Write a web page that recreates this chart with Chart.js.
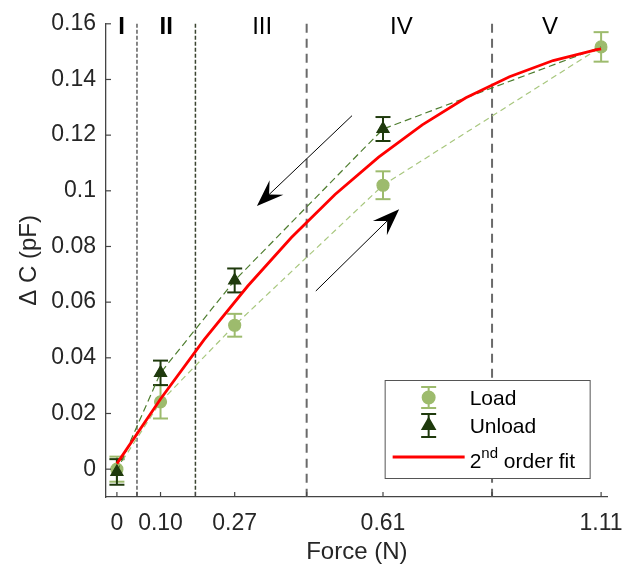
<!DOCTYPE html>
<html>
<head>
<meta charset="utf-8">
<script src="https://cdn.jsdelivr.net/npm/chart.js@4.4.1/dist/chart.umd.min.js"></script>
<style>
html, body { margin: 0; padding: 0; background: #fff; }
</style>
</head>
<body>
<canvas id="forceChart" width="636" height="576"></canvas>
<script>
// force levels (N) and capacitance change (pF)
const forceLevels = [0, 0.10, 0.27, 0.61, 1.11];
const loadValues = [0.0, 0.0242, 0.0517, 0.1020, 0.1517];
const loadErrors = [0.0045, 0.0060, 0.0041, 0.0050, 0.0053];
const unloadValues = [-0.001, 0.0346, 0.0678, 0.1222, 0.1517];
const unloadErrors = [0.0046, 0.0044, 0.0043, 0.0043, 0.0053];

// 2nd order fit
const fitForce = [0, 0.1, 0.2, 0.3, 0.4, 0.5, 0.6, 0.7, 0.8, 0.9, 1.0, 1.1, 1.11];
const fitValues = [0.002, 0.0252, 0.0465, 0.0658, 0.0832, 0.0987, 0.1121, 0.1237, 0.1334, 0.1410, 0.1468, 0.1507, 0.1510];

const regionBounds = [0.046, 0.18, 0.435, 0.86];
const regionNames = ["I", "II", "III", "IV", "V"];
const regionLabelX = [0.011, 0.113, 0.333, 0.652, 0.993];

const xTicks = [0, 0.046, 0.10, 0.18, 0.27, 0.435, 0.61, 0.86, 1.11];
const xTickLabels = ["0", "", "0.10", "", "0.27", "", "0.61", "", "1.11"];
const yTicks = [0, 0.02, 0.04, 0.06, 0.08, 0.10, 0.12, 0.14, 0.16];
const yTickLabels = ["0", "0.02", "0.04", "0.06", "0.08", "0.1", "0.12", "0.14", "0.16"];

// arrows [x0, y0, x1, y1] in data units, tip at (x1, y1)
const unloadArrow = [0.539, 0.127, 0.321, 0.0945];
const loadArrow = [0.456, 0.064, 0.647, 0.0934];

const FONT = "'Liberation Sans', Arial, Helvetica, sans-serif";
const LOAD_COLOR = "#9dbb6d";
const UNLOAD_COLOR = "#1f3a0d";
const LAST = forceLevels.length - 1;

function toPoints(xs, ys) {
    return xs.map((x, i) => ({ x: x, y: ys[i] }));
}

function line(ctx, x0, y0, x1, y1) {
    ctx.beginPath();
    ctx.moveTo(x0, y0);
    ctx.lineTo(x1, y1);
    ctx.stroke();
}

function drawErrors(ctx, x, y, values, errors, color, skipLast) {
    ctx.strokeStyle = color;
    ctx.lineWidth = 2;
    values.forEach((v, i) => {
        if (skipLast && i === LAST) return;
        const px = x.getPixelForValue(forceLevels[i]);
        const top = y.getPixelForValue(v + errors[i]);
        const bot = y.getPixelForValue(v - errors[i]);
        line(ctx, px, top, px, bot);
        line(ctx, px - 7.5, top, px + 7.5, top);
        line(ctx, px - 7.5, bot, px + 7.5, bot);
    });
}

function drawArrow(ctx, x, y, arr) {
    const x0 = x.getPixelForValue(arr[0]), y0 = y.getPixelForValue(arr[1]);
    const x1 = x.getPixelForValue(arr[2]), y1 = y.getPixelForValue(arr[3]);
    const len = Math.hypot(x1 - x0, y1 - y0);
    const ux = (x1 - x0) / len, uy = (y1 - y0) / len;
    const L = 27, W = 10;
    ctx.strokeStyle = "#000";
    ctx.lineWidth = 1;
    line(ctx, x0, y0, x1 - ux * L * 0.5, y1 - uy * L * 0.5);
    ctx.fillStyle = "#000";
    ctx.beginPath();
    ctx.moveTo(x1, y1);
    ctx.lineTo(x1 - ux * L - uy * W, y1 - uy * L + ux * W);
    ctx.lineTo(x1 - ux * L * 0.62, y1 - uy * L * 0.62);
    ctx.lineTo(x1 - ux * L + uy * W, y1 - uy * L - ux * W);
    ctx.closePath();
    ctx.fill();
}

function legendErrorIcon(ctx, cx, top, bot, color, style, r) {
    ctx.strokeStyle = color;
    ctx.lineWidth = 2;
    line(ctx, cx, top, cx, bot);
    line(ctx, cx - 7.5, top, cx + 7.5, top);
    line(ctx, cx - 7.5, bot, cx + 7.5, bot);
    ctx.fillStyle = color;
    Chart.helpers.drawPoint(ctx, { pointStyle: style, radius: r, borderWidth: 1, rotation: 0 }, cx, (top + bot) / 2);
}

const extras = {
    id: "extras",
    beforeDatasetsDraw(chart) {
        const { ctx, chartArea: a, scales: { x, y } } = chart;
        ctx.save();
        regionBounds.forEach((b, i) => {
            const px = x.getPixelForValue(b);
            ctx.strokeStyle = i === 0 ? "#606060" : i === 1 ? "#3a4430" : "#6a6a6a";
            ctx.lineWidth = i < 2 ? 1.5 : 2;
            ctx.setLineDash(i < 2 ? [4, 2] : [9, 6]);
            line(ctx, px, a.top, px, a.bottom);
        });
        ctx.setLineDash([]);
        drawErrors(ctx, x, y, loadValues, loadErrors, LOAD_COLOR, false);
        drawErrors(ctx, x, y, unloadValues, unloadErrors, UNLOAD_COLOR, true);
        ctx.restore();
    },
    afterDatasetsDraw(chart) {
        const { ctx, chartArea: a, scales: { x, y } } = chart;
        ctx.save();
        drawArrow(ctx, x, y, unloadArrow);
        drawArrow(ctx, x, y, loadArrow);

        // region numerals
        ctx.fillStyle = "#000";
        ctx.textAlign = "center";
        ctx.textBaseline = "middle";
        regionNames.forEach((n, i) => {
            ctx.font = (i < 2 ? "bold " : "") + "24px " + FONT;
            ctx.fillText(n, x.getPixelForValue(regionLabelX[i]), a.top + 4);
        });

        // inward ticks
        ctx.strokeStyle = "#444";
        ctx.lineWidth = 1.2;
        xTicks.forEach(v => {
            const px = x.getPixelForValue(v);
            line(ctx, px, a.bottom, px, a.bottom - 5);
        });
        yTicks.forEach(v => {
            const py = y.getPixelForValue(v);
            line(ctx, a.left, py, a.left + 5, py);
        });

        // legend
        const lx = a.right - 223, ly = a.bottom - 117;
        ctx.fillStyle = "#fff";
        ctx.fillRect(lx, ly, 205, 98);
        ctx.strokeStyle = "#555";
        ctx.lineWidth = 1;
        ctx.strokeRect(lx + 0.5, ly + 0.5, 205, 98);

        legendErrorIcon(ctx, lx + 44, ly + 7, ly + 28, LOAD_COLOR, "circle", 6);
        legendErrorIcon(ctx, lx + 44, ly + 34, ly + 57, UNLOAD_COLOR, "triangle", 7);
        ctx.strokeStyle = "#ff0000";
        ctx.lineWidth = 3;
        line(ctx, lx + 8, ly + 77, lx + 80, ly + 77);

        ctx.fillStyle = "#000";
        ctx.textAlign = "left";
        ctx.textBaseline = "middle";
        ctx.font = "21px " + FONT;
        ctx.fillText("Load", lx + 85, ly + 19);
        ctx.fillText("Unload", lx + 85, ly + 47);
        ctx.textBaseline = "alphabetic";
        let tx = lx + 85;
        ctx.fillText("2", tx, ly + 88);
        tx += ctx.measureText("2").width;
        ctx.font = "15px " + FONT;
        ctx.fillText("nd", tx, ly + 78);
        tx += ctx.measureText("nd").width;
        ctx.font = "21px " + FONT;
        ctx.fillText(" order fit", tx, ly + 88);
        ctx.restore();
    }
};

const ctx = document.getElementById("forceChart").getContext("2d");
const forceChart = new Chart(ctx, {
    type: "line",
    data: {
        datasets: [
            {
                label: "2nd order fit",
                data: toPoints(fitForce, fitValues),
                borderColor: "#ff0000",
                borderWidth: 2.8,
                pointRadius: 0,
                tension: 0,
                order: 1
            },
            {
                label: "Unload",
                data: toPoints(forceLevels, unloadValues),
                borderColor: "#4e7d2f",
                borderWidth: 1.2,
                borderDash: [7, 4],
                pointStyle: "triangle",
                pointRadius: c => (c.dataIndex === LAST ? 0 : 7),
                pointBackgroundColor: UNLOAD_COLOR,
                pointBorderColor: UNLOAD_COLOR,
                tension: 0,
                order: 2
            },
            {
                label: "Load",
                data: toPoints(forceLevels, loadValues),
                borderColor: "#a8c77e",
                borderWidth: 1.2,
                borderDash: [6, 4],
                pointStyle: "circle",
                pointRadius: 6,
                pointBackgroundColor: LOAD_COLOR,
                pointBorderColor: LOAD_COLOR,
                tension: 0,
                order: 3
            }
        ]
    },
    options: {
        responsive: false,
        animation: false,
        layout: { padding: { top: 15, right: 28, left: 0, bottom: 0 } },
        plugins: {
            legend: { display: false },
            tooltip: { enabled: false }
        },
        scales: {
            x: {
                type: "linear",
                min: -0.025,
                max: 1.125,
                afterBuildTicks: s => { s.ticks = xTicks.map(v => ({ value: v })); },
                afterFit: s => { s.height = 79; },
                grid: { display: false, drawTicks: false },
                border: { display: true, color: "#444", width: 1.3 },
                ticks: {
                    autoSkip: false,
                    maxRotation: 0,
                    padding: 13,
                    color: "#262626",
                    font: { family: FONT, size: 23 },
                    callback: (v, i) => xTickLabels[i]
                },
                title: {
                    display: true,
                    text: "Force (N)",
                    color: "#262626",
                    font: { family: FONT, size: 24 },
                    padding: { top: 0, bottom: 9 }
                }
            },
            y: {
                min: -0.01,
                max: 0.16,
                afterBuildTicks: s => { s.ticks = yTicks.map(v => ({ value: v })); },
                afterFit: s => { s.width = 106; },
                grid: { display: false, drawTicks: false },
                border: { display: true, color: "#444", width: 1.3 },
                ticks: {
                    autoSkip: false,
                    padding: 10,
                    color: "#262626",
                    font: { family: FONT, size: 23 },
                    callback: (v, i) => yTickLabels[i]
                },
                title: {
                    display: true,
                    text: "Δ C (pF)",
                    color: "#262626",
                    font: { family: FONT, size: 24 },
                    padding: { top: 15, bottom: 0 }
                }
            }
        }
    },
    plugins: [extras]
});
</script>
</body>
</html>
